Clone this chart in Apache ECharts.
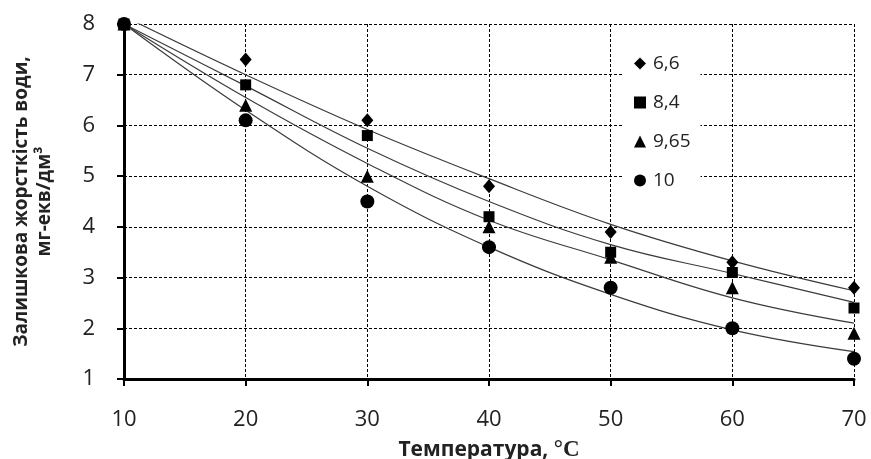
<!DOCTYPE html>
<html>
<head>
<meta charset="utf-8">
<script src="https://cdn.jsdelivr.net/npm/echarts@6/dist/echarts.min.js"></script>
<style>
  html, body { margin: 0; padding: 0; background: #fff; }
  #chart { width: 871px; height: 459px; }
</style>
</head>
<body>
<div id="chart"></div>
<script>
// temperatures, °C
const temps = [10, 20, 30, 40, 50, 60, 70];
const seriesNames = ['6,6', '8,4', '9,65', '10'];
const symbols = ['diamond', 'rect', 'triangle', 'circle'];
const symbolSizes = [[12, 14], 11, 13, 14];

// measured points
const pts66 = [8, 7.3, 6.1, 4.8, 3.9, 3.3, 2.8];
const pts84 = [8, 6.8, 5.8, 4.2, 3.5, 3.1, 2.4];
const pts965 = [8, 6.4, 5.0, 4.0, 3.4, 2.8, 1.9];
const pts10 = [8, 6.1, 4.5, 3.6, 2.8, 2.0, 1.4];

// trend curves
const fit66 = [8.15, 7.0, 5.92, 4.95, 4.05, 3.33, 2.74];
const fit84 = [8, 6.78, 5.55, 4.5, 3.65, 3.08, 2.51];
const fit965 = [8, 6.55, 5.25, 4.13, 3.35, 2.6, 2.1];
const fit10 = [8, 6.3, 4.8, 3.6, 2.67, 1.97, 1.54];

const points = [pts66, pts84, pts965, pts10];
const fits = [fit66, fit84, fit965, fit10];

const pair = (arr) => temps.map((t, i) => [t, arr[i]]);

const series = [];
fits.forEach((f) => {
  series.push({
    type: 'line',
    data: pair(f),
    smooth: 0.4,
    showSymbol: false,
    silent: true,
    lineStyle: { color: '#3c3c3c', width: 1.2 },
    z: 2,
  });
});
points.forEach((p, i) => {
  series.push({
    name: seriesNames[i],
    type: 'scatter',
    data: pair(p),
    symbol: symbols[i],
    symbolSize: symbolSizes[i],
    clip: false,
    itemStyle: { color: '#000', opacity: 1 },
    z: 3,
  });
});

const chart = echarts.init(document.getElementById('chart'));
chart.setOption({
  animation: false,
  backgroundColor: '#fff',
  textStyle: { fontFamily: 'Open Sans' },
  legend: {
    data: seriesNames,
    orient: 'vertical',
    left: 624,
    top: 44,
    padding: [10, 10, 10, 10],
    backgroundColor: '#fff',
    itemWidth: 12,
    itemHeight: 12,
    itemGap: 20,
    itemStyle: { opacity: 1 },
    textStyle: { fontSize: 19, color: '#222', fontFamily: 'Open Sans', padding: [0, 0, 0, 2] },
  },
  grid: { left: 124, right: 17, top: 24, bottom: 80, outerBoundsMode: 'none' },
  xAxis: {
    type: 'value',
    min: 10,
    max: 70,
    interval: 10,
    name: 'Температура, {u|°C}',
    nameLocation: 'middle',
    nameGap: 60,
    nameTextStyle: {
      fontSize: 21,
      fontWeight: 'bold',
      color: '#222',
      fontFamily: 'Open Sans',
      rich: { u: { fontFamily: 'Liberation Serif', fontSize: 23, color: '#222' } },
    },
    axisLine: { show: true, onZero: false, lineStyle: { color: '#000', width: 3 } },
    axisTick: { show: true, length: 7, lineStyle: { color: '#000', width: 2 } },
    axisLabel: { fontSize: 22, color: '#222', margin: 30, fontFamily: 'Open Sans' },
    splitLine: { show: true, lineStyle: { color: '#000', type: [3, 2], width: 1 } },
  },
  yAxis: {
    type: 'value',
    min: 1,
    max: 8,
    interval: 1,
    name: 'Залишкова жорсткість води,\nмг-екв/дм³',
    nameLocation: 'middle',
    nameRotate: 90,
    nameGap: 68,
    nameTextStyle: {
      fontSize: 19,
      fontWeight: 'bold',
      color: '#222',
      lineHeight: 23,
      fontFamily: 'Open Sans',
    },
    axisLine: { show: true, onZero: false, lineStyle: { color: '#000', width: 3 } },
    axisTick: { show: true, length: 7, lineStyle: { color: '#000', width: 2 } },
    axisLabel: { fontSize: 22, color: '#222', margin: 29, fontFamily: 'Open Sans' },
    splitLine: { show: true, lineStyle: { color: '#000', type: [3, 2], width: 1 } },
  },
  series: series,
});
</script>
</body>
</html>
